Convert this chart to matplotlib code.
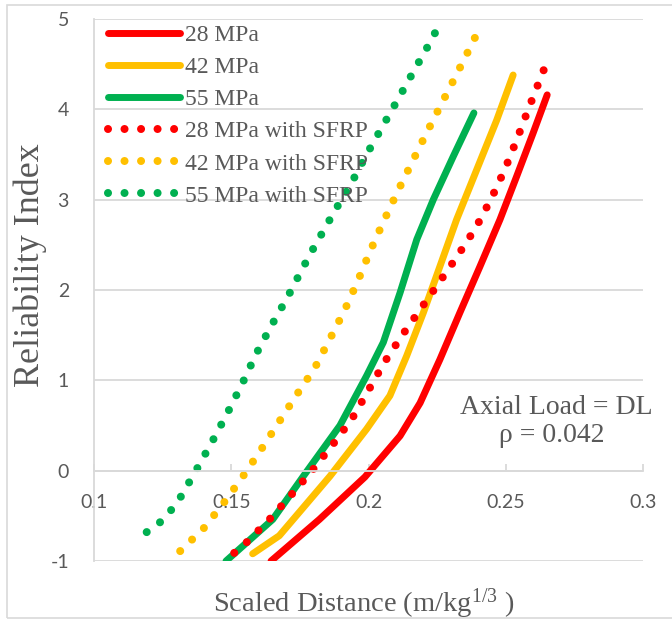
import matplotlib
matplotlib.use("Agg")
import matplotlib.pyplot as plt
from matplotlib.patches import Rectangle

plt.rcParams['mathtext.fontset'] = 'custom'
plt.rcParams['mathtext.rm'] = 'Liberation Serif'
plt.rcParams['mathtext.it'] = 'Liberation Serif:italic'
plt.rcParams['axes.unicode_minus'] = False

# values
x_28 = [0.1645, 0.1821, 0.1987, 0.2115, 0.2188, 0.2260, 0.2333, 0.2406, 0.2479, 0.2540, 0.2600, 0.2651]
y_28 = [-1.0, -0.54, -0.07, 0.385, 0.75, 1.23, 1.75, 2.26, 2.78, 3.26, 3.74, 4.16]

x_42 = [0.1578, 0.1675, 0.1748, 0.1860, 0.1993, 0.2078, 0.2139, 0.2200, 0.2260, 0.2321,
        0.2394, 0.2467, 0.2527]
y_42 = [-0.92, -0.72, -0.46, -0.06, 0.46, 0.83, 1.27, 1.75, 2.26, 2.78, 3.33, 3.88, 4.38]

x_55 = [0.1481, 0.1651, 0.1763, 0.1896, 0.1993, 0.2054, 0.2115, 0.2176, 0.2236, 0.2309, 0.2384]
y_55 = [-1.0, -0.54, -0.06, 0.50, 1.05, 1.42, 1.97, 2.56, 3.0, 3.48, 3.96]

x_28s = [0.1511, 0.1557, 0.1639, 0.1718, 0.1797, 0.1870, 0.1939, 0.1998, 0.2058, 0.2123,
         0.2192, 0.2259, 0.2327, 0.2391, 0.2447, 0.2496, 0.2541, 0.2582, 0.2626, 0.2648]
y_28s = [-0.91, -0.79, -0.54, -0.27, 0.01, 0.29, 0.57, 0.88, 1.20, 1.50,
         1.80, 2.09, 2.39, 2.69, 3.01, 3.33, 3.67, 4.0, 4.34, 4.51]

x_42s = [0.1314, 0.1399, 0.1472, 0.1541, 0.1608, 0.1672, 0.1736, 0.1803, 0.1858, 0.1912,
         0.1961, 0.2006, 0.2055, 0.2106, 0.2158, 0.2210, 0.2264, 0.2318, 0.2371, 0.2397]
y_42s = [-0.89, -0.64, -0.36, -0.07, 0.23, 0.53, 0.83, 1.13, 1.45, 1.77,
         2.10, 2.43, 2.76, 3.09, 3.41, 3.73, 4.05, 4.37, 4.69, 4.85]

x_55s = [0.1192, 0.1241, 0.1280, 0.1314, 0.1375, 0.1432, 0.1488, 0.1541, 0.1592, 0.1647, 0.1705,
         0.1734, 0.1788, 0.1876, 0.1937, 0.1993, 0.2051, 0.2109, 0.2168, 0.2226, 0.2255]
y_55s = [-0.68, -0.57, -0.44, -0.30, 0.02, 0.33, 0.65, 0.97, 1.30, 1.61, 1.92,
         2.09, 2.40, 2.87, 3.18, 3.50, 3.81, 4.12, 4.44, 4.75, 4.92]

labels = ['28 MPa', '42 MPa', '55 MPa', '28 MPa with SFRP', '42 MPa with SFRP', '55 MPa with SFRP']
colors = ['#FF0000', '#FFC000', '#00B050']
xticks = [0.1, 0.15, 0.2, 0.25, 0.3]
yticks = [-1, 0, 1, 2, 3, 4, 5]

fig = plt.figure(figsize=(6.72, 6.2), dpi=100)
ax = fig.add_axes([94/672, 1-561/620, 549/672, 542/620])

solid = [(x_28, y_28), (x_42, y_42), (x_55, y_55)]
dotted = [(x_28s, y_28s), (x_42s, y_42s), (x_55s, y_55s)]
for i, (xs, ys) in enumerate(solid):
    ax.plot(xs, ys, color=colors[i], lw=5.0, solid_capstyle='round',
            solid_joinstyle='round', label=labels[i])
for i, (xs, ys) in enumerate(dotted):
    ax.plot(xs, ys, color=colors[i], lw=5.8, linestyle=(0, (0.001, 2.05)),
            dash_capstyle='round', label=labels[i+3], clip_on=False)

ax.set_xlim(0.1, 0.3)
ax.set_ylim(-1, 5)
ax.set_xticks(xticks)
ax.set_xticklabels(['0.1', '0.15', '0.2', '0.25', '0.3'])
ax.set_yticks(yticks)

grey = '#d9d9d9'
txt = '#595959'
ax.grid(axis='y', color=grey, lw=1.3)
ax.set_axisbelow(True)
for s in ['top', 'right']:
    ax.spines[s].set_visible(False)
ax.spines['bottom'].set_position(('data', 0))
ax.spines['bottom'].set_color(grey)
ax.spines['bottom'].set_linewidth(1.3)
ax.spines['left'].set_color(grey)
ax.spines['left'].set_linewidth(1.3)

ax.tick_params(axis='x', direction='in', length=5, width=1.3, color=grey, pad=17,
               labelsize=14, labelcolor=txt)
ax.tick_params(axis='y', length=0, pad=18, labelsize=14, labelcolor=txt)
for t in ax.get_xticklabels() + ax.get_yticklabels():
    t.set_family('Lato')

ax.set_ylabel('Reliability Index', family='Liberation Serif', fontsize=26, color=txt)
ax.yaxis.set_label_coords((47-94)/549, (561-265)/542)
ax.set_xlabel('Scaled Distance (m/kg$^{\\mathit{1/3}}$ )', family='Liberation Serif',
              fontsize=20.5, color=txt, va='baseline')
ax.xaxis.set_label_coords((364-94)/549, -(612-561)/542)

ax.text((556-94)/549, (561-407)/542, 'Axial Load = DL', transform=ax.transAxes,
        ha='center', va='center', family='Liberation Serif', fontsize=20, color=txt)
ax.text((552-94)/549, (561-436)/542, '\u03c1 = 0.042', transform=ax.transAxes,
        ha='center', va='center', family='Liberation Serif', fontsize=20, color=txt)

leg = ax.legend(loc='upper left', bbox_to_anchor=(0.0084, 1.0075), frameon=False,
                prop={'family': 'Liberation Serif', 'size': 17}, handlelength=3.05,
                handletextpad=0.2, labelspacing=0.45, borderaxespad=0.0)
for t in leg.get_texts():
    t.set_color(txt)

fig.patches.append(Rectangle((7/672, 2/620), 1.0, 613/620, transform=fig.transFigure,
                             fill=False, edgecolor=grey, lw=1.2))

fig.savefig('out.png', dpi=100)
